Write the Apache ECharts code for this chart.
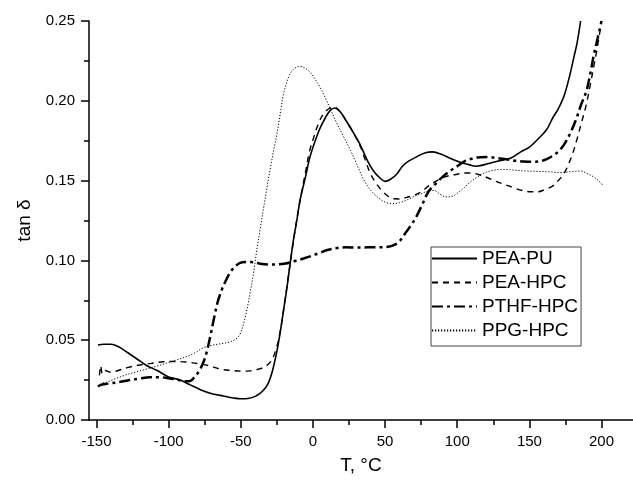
<!DOCTYPE html>
<html>
<head>
<meta charset="utf-8">
<script src="https://cdn.jsdelivr.net/npm/echarts@6/dist/echarts.min.js"></script>
<style>
html,body{margin:0;padding:0;background:#fff;}
#chart{width:633px;height:486px;}
</style>
</head>
<body>
<div id="chart"></div>
<script>
const seriesNames = ['PEA-PU', 'PEA-HPC', 'PTHF-HPC', 'PPG-HPC'];
const xMajorTicks = [-150, -100, -50, 0, 50, 100, 150, 200];
const xMinorTicks = [-125, -75, -25, 25, 75, 125, 175];

const peaPu = [[-149,0.047],[-145,0.0475],[-140,0.0475],[-135,0.046],[-128,0.042],[-120,0.037],[-115,0.034],[-108,0.031],[-100,0.027],[-92,0.025],[-85,0.022],[-78,0.019],[-70,0.0165],[-62,0.015],[-55,0.0138],[-50,0.0133],[-45,0.0135],[-40,0.0148],[-35,0.018],[-31,0.023],[-28,0.031],[-25,0.043],[-22.5,0.056],[-20,0.071],[-18,0.083],[-15.5,0.1],[-13.5,0.113],[-11,0.126],[-9,0.1375],[-5,0.153],[-2,0.165],[2,0.176],[5,0.183],[9,0.19],[12,0.194],[15,0.1955],[19,0.193],[23,0.1875],[28,0.18],[33,0.172],[38,0.162],[42,0.156],[46,0.152],[50,0.1495],[54,0.151],[58,0.154],[62,0.159],[66,0.162],[72,0.165],[78,0.1675],[83,0.168],[89,0.1665],[95,0.164],[102,0.1615],[108,0.16],[113,0.159],[119,0.16],[125,0.1615],[132,0.163],[138,0.1645],[144,0.168],[150,0.171],[157,0.177],[162,0.182],[166,0.189],[170,0.195],[174,0.203],[178,0.216],[181,0.228],[183,0.236],[185.5,0.25]];

const peaHpc = [[-148,0.028],[-147,0.034],[-146,0.029],[-144,0.031],[-140,0.030],[-135,0.031],[-128,0.033],[-120,0.0345],[-112,0.0355],[-104,0.0365],[-96,0.0367],[-88,0.0363],[-80,0.0354],[-72,0.034],[-64,0.0318],[-56,0.031],[-50,0.0306],[-44,0.0308],[-38,0.0318],[-33,0.0335],[-29,0.037],[-26,0.043],[-23,0.054],[-20.5,0.068],[-18,0.084],[-15.5,0.1],[-13.5,0.112],[-11.5,0.124],[-8,0.142],[-5,0.156],[-2.5,0.168],[0.5,0.177],[3.5,0.185],[7,0.1915],[11,0.195],[15,0.196],[19,0.193],[23,0.1875],[28,0.18],[33,0.171],[37,0.161],[40,0.154],[44,0.148],[48,0.1435],[52,0.1402],[56,0.1386],[60,0.1385],[65,0.1395],[70,0.1408],[75,0.143],[80,0.1465],[86,0.15],[92,0.1525],[100,0.154],[106,0.1548],[111,0.1546],[116,0.1535],[121,0.1518],[127,0.1495],[133,0.1475],[139,0.1455],[145,0.1438],[151,0.143],[156,0.143],[161,0.1445],[166,0.1465],[170,0.15],[174,0.1545],[177,0.16],[180,0.167],[183,0.176],[186,0.186],[189,0.196],[192,0.209],[194.5,0.221],[197,0.233],[200,0.25]];

const pthfHpc = [[-149,0.021],[-147,0.022],[-144,0.0225],[-140,0.023],[-134,0.0238],[-127,0.025],[-120,0.026],[-113,0.0268],[-106,0.0268],[-100,0.0262],[-94,0.0252],[-89,0.0243],[-85,0.0245],[-82,0.027],[-79,0.0305],[-76,0.036],[-73.5,0.043],[-71,0.053],[-68.5,0.064],[-66,0.074],[-63,0.082],[-60,0.088],[-57,0.093],[-53,0.097],[-49,0.0988],[-43,0.099],[-37,0.098],[-31,0.0975],[-25,0.0975],[-19,0.098],[-13,0.0995],[-7,0.101],[-2,0.1025],[4,0.1045],[10,0.1065],[17,0.1078],[23,0.1082],[30,0.108],[38,0.1082],[46,0.1082],[52,0.1085],[56,0.1095],[60,0.112],[64,0.117],[68,0.122],[72,0.128],[76,0.1355],[80,0.143],[85,0.148],[90,0.1525],[95,0.156],[100,0.159],[105,0.162],[110,0.1637],[116,0.1647],[122,0.1648],[128,0.164],[134,0.1633],[140,0.1625],[146,0.162],[152,0.1618],[157,0.162],[162,0.1635],[167,0.166],[171,0.169],[175,0.174],[179,0.181],[183,0.19],[186,0.198],[189.5,0.206],[192,0.216],[194.5,0.228],[197,0.238],[200,0.25]];

const ppgHpc = [[-149,0.021],[-146,0.023],[-142,0.024],[-138,0.0255],[-132,0.0275],[-127,0.029],[-121,0.0305],[-115,0.032],[-108,0.0338],[-101,0.0358],[-94,0.0378],[-87.5,0.0398],[-82,0.042],[-76,0.0452],[-70,0.0468],[-64,0.0478],[-58,0.0488],[-54,0.0505],[-51,0.053],[-48.5,0.059],[-46,0.068],[-43.5,0.08],[-41,0.093],[-39,0.106],[-36.5,0.12],[-34,0.134],[-32,0.145],[-29.5,0.158],[-27,0.17],[-25,0.179],[-22.5,0.193],[-20.5,0.204],[-18,0.212],[-15.5,0.2175],[-12.5,0.2205],[-9,0.2215],[-5.5,0.2205],[-2,0.218],[1.5,0.2135],[5,0.2083],[8.5,0.202],[12,0.195],[16,0.187],[21,0.178],[26,0.169],[30,0.161],[35,0.151],[40,0.144],[45,0.1395],[50,0.1365],[55,0.1355],[60,0.1362],[65,0.1378],[70,0.14],[75,0.1418],[80,0.1435],[84,0.1438],[88,0.1415],[92,0.1398],[96,0.14],[100,0.142],[104,0.145],[109,0.149],[113.5,0.152],[118,0.1545],[125,0.1565],[132,0.157],[140,0.1565],[148,0.156],[156,0.1558],[164,0.1555],[171,0.155],[178,0.1555],[185,0.156],[190,0.1545],[195,0.152],[199,0.149],[201,0.147]];

const FONT = "'Liberation Sans', Arial, sans-serif";
const chart = echarts.init(document.getElementById('chart'), null, {renderer: 'canvas'});

function lineSeries(name, data, lineStyle) {
  return {
    name: name, type: 'line', data: data, xAxisIndex: 0, yAxisIndex: 0,
    showSymbol: false, symbol: 'none', smooth: 0.35, clip: true,
    lineStyle: Object.assign({color: '#000'}, lineStyle),
    itemStyle: {color: '#000'},
    emphasis: {disabled: true}, animation: false
  };
}

chart.setOption({
  animation: false,
  backgroundColor: '#fff',
  grid: {left: 89, right: 0, top: 21, bottom: 66, containLabel: false},
  legend: {
    data: seriesNames,
    orient: 'vertical', left: 431, top: 247,
    padding: [2, 3, 6, 0],
    itemWidth: 45, itemHeight: 14, itemGap: 5,
    borderColor: '#444', borderWidth: 1,
    selectedMode: false,
    itemStyle: {color: 'rgba(0,0,0,0)', borderWidth: 0, opacity: 0},
    textStyle: {fontFamily: FONT, fontSize: 19, color: '#000'}
  },
  xAxis: [{
    type: 'value', min: -155.2, max: 221.8,
    name: 'T, \u00B0C', nameLocation: 'middle', nameGap: 36,
    nameTextStyle: {fontFamily: FONT, fontSize: 19, color: '#000'},
    axisLine: {show: true, onZero: false, lineStyle: {color: '#000', width: 1.5}},
    axisTick: {show: true, inside: false, length: 8, customValues: xMajorTicks, lineStyle: {color: '#000', width: 1.5}},
    axisLabel: {show: true, customValues: xMajorTicks, margin: 14, fontFamily: FONT, fontSize: 15, color: '#000'},
    splitLine: {show: false}
  }, {
    type: 'value', min: -155.2, max: 221.8, position: 'bottom', offset: 0, gridIndex: 0,
    axisLine: {show: false},
    axisTick: {show: true, inside: false, length: 5, customValues: xMinorTicks, lineStyle: {color: '#000', width: 1.5}},
    axisLabel: {show: false},
    splitLine: {show: false}
  }],
  yAxis: {
    type: 'value', min: 0, max: 0.25, interval: 0.05,
    name: 'tan \u03B4', nameLocation: 'middle', nameGap: 55, nameRotate: 90,
    nameTextStyle: {fontFamily: FONT, fontSize: 19, color: '#000'},
    axisLine: {show: true, onZero: false, lineStyle: {color: '#000', width: 1.5}},
    axisTick: {show: true, inside: false, length: 8, lineStyle: {color: '#000', width: 1.5}},
    minorTick: {show: true, splitNumber: 2, length: 5, lineStyle: {color: '#000', width: 1.5}},
    axisLabel: {margin: 14, fontFamily: FONT, fontSize: 15, color: '#000', formatter: v => v.toFixed(2)},
    splitLine: {show: false}
  },
  series: [
    lineSeries(seriesNames[0], peaPu, {width: 1.6, type: 'solid'}),
    lineSeries(seriesNames[1], peaHpc, {width: 1.4, type: [6, 5]}),
    lineSeries(seriesNames[2], pthfHpc, {width: 2.5, type: [11, 4, 3, 4]}),
    lineSeries(seriesNames[3], ppgHpc, {width: 1, type: [1.2, 1.8]})
  ]
});
</script>
</body>
</html>
